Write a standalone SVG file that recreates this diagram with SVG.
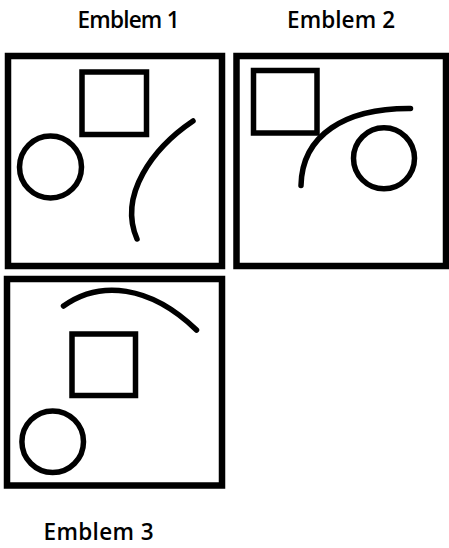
<svg xmlns="http://www.w3.org/2000/svg" width="449" height="548" viewBox="0 0 449 548">
<style>
.frame{fill:none;stroke:#000;stroke-width:6.5}
.shape{fill:none;stroke:#000;stroke-width:5.5}
.arc{fill:none;stroke:#000;stroke-width:5.5;stroke-linecap:round}
.lbl{font-family:"Open Sans","Liberation Sans",Arial,sans-serif;font-weight:600;font-size:22.5px;fill:#000}
</style>
<rect width="449" height="548" fill="#fff"/>
<g id="emblem1">
<rect class="frame" x="8" y="56" width="214" height="210"/>
<rect class="shape" x="82" y="72" width="64.5" height="62.5"/>
<circle class="shape" cx="50.5" cy="167" r="31"/>
<path class="arc" d="M193 121 C153 148 118 195 137 239"/>
<text class="lbl" x="77.5" y="27.5" textLength="102">Emblem 1</text>
</g>
<g id="emblem2">
<rect class="frame" x="236.5" y="56" width="209.5" height="210"/>
<rect class="shape" x="253.5" y="70.5" width="63.5" height="62.5"/>
<circle class="shape" cx="384" cy="158.3" r="30.5"/>
<path class="arc" d="M301 185.5 C302 135 345 108 410.5 108.5"/>
<text class="lbl" x="287" y="28" textLength="108">Emblem 2</text>
</g>
<g id="emblem3">
<rect class="frame" x="7" y="279" width="215" height="206.5"/>
<rect class="shape" x="72" y="334" width="63.5" height="61.5"/>
<circle class="shape" cx="52.7" cy="441.7" r="30.8"/>
<path class="arc" d="M63.5 306 C100 280 150 285 196.5 330"/>
<text class="lbl" x="43.5" y="539.5" textLength="110">Emblem 3</text>
</g>
<g id="connectors"/>
</svg>
